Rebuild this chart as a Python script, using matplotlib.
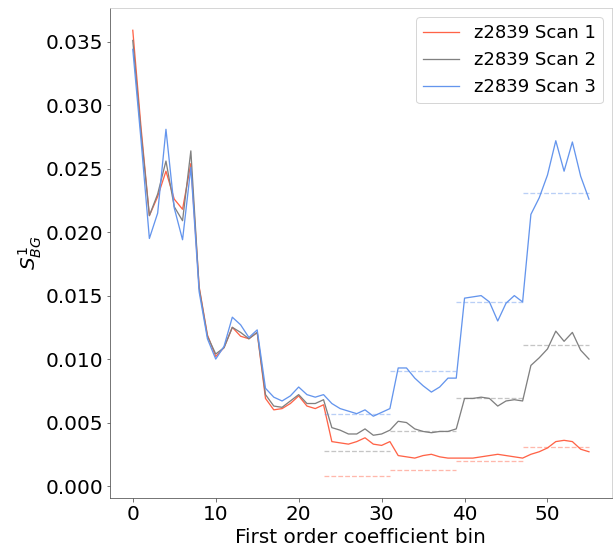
import matplotlib
matplotlib.use("Agg")
import matplotlib.pyplot as plt
import numpy as np

bins = np.arange(56)

scan1 = [0.0359, 0.0282, 0.0213, 0.0228, 0.0248, 0.0226, 0.0218, 0.0254, 0.0157, 0.0119,
         0.0102, 0.0109, 0.0125, 0.0118, 0.0116, 0.0121, 0.0069, 0.0060, 0.0061, 0.0065,
         0.0071, 0.0063, 0.0061, 0.0064, 0.0035, 0.0034, 0.0033, 0.0035, 0.0038, 0.0033,
         0.0032, 0.0035, 0.0024, 0.0023, 0.0022, 0.0024, 0.0025, 0.0023, 0.0022, 0.0022,
         0.0022, 0.0022, 0.0023, 0.0024, 0.0025, 0.0024, 0.0023, 0.0022, 0.0025, 0.0027,
         0.0030, 0.0035, 0.0036, 0.0035, 0.0029, 0.0027]
scan2 = [0.0351, 0.0278, 0.0213, 0.0230, 0.0256, 0.0220, 0.0209, 0.0264, 0.0156, 0.0118,
         0.0104, 0.0109, 0.0125, 0.0121, 0.0116, 0.0121, 0.0072, 0.0063, 0.0062, 0.0067,
         0.0072, 0.0065, 0.0065, 0.0068, 0.0046, 0.0044, 0.0041, 0.0041, 0.0045, 0.0040,
         0.0041, 0.0044, 0.0051, 0.0050, 0.0045, 0.0043, 0.0042, 0.0043, 0.0043, 0.0045,
         0.0069, 0.0069, 0.0070, 0.0069, 0.0063, 0.0067, 0.0068, 0.0067, 0.0095, 0.0101,
         0.0108, 0.0122, 0.0114, 0.0121, 0.0107, 0.0100]
scan3 = [0.0344, 0.0272, 0.0195, 0.0215, 0.0281, 0.0219, 0.0194, 0.0251, 0.0153, 0.0116,
         0.0100, 0.0110, 0.0133, 0.0127, 0.0117, 0.0123, 0.0077, 0.0070, 0.0067, 0.0071,
         0.0078, 0.0072, 0.0070, 0.0072, 0.0065, 0.0061, 0.0059, 0.0057, 0.0060, 0.0055,
         0.0058, 0.0061, 0.0093, 0.0093, 0.0085, 0.0079, 0.0074, 0.0078, 0.0085, 0.0085,
         0.0148, 0.0149, 0.0150, 0.0145, 0.0130, 0.0144, 0.0150, 0.0145, 0.0214, 0.0227,
         0.0245, 0.0272, 0.0248, 0.0271, 0.0244, 0.0226]

# averages drawn as dashed segments over bin ranges
seg_edges = [23, 31, 39, 47, 55]
avg1 = [0.00081, 0.00126, 0.00194, 0.00307]
avg2 = [0.00278, 0.00435, 0.00697, 0.01108]
avg3 = [0.00566, 0.00909, 0.01449, 0.02311]

labels = ["z2839 Scan 1", "z2839 Scan 2", "z2839 Scan 3"]
colors = ["tomato", "grey", "cornflowerblue"]

fig = plt.figure(figsize=(613 / 72, 548 / 72), dpi=72)
ax = fig.add_axes([0.1794, 0.0912, 0.8186, 0.8942])

for vals, avg, lab, col in zip([scan1, scan2, scan3], [avg1, avg2, avg3], labels, colors):
    ax.plot(bins, vals, color=col, label=lab, lw=1.3)
    for k, a in enumerate(avg):
        ax.plot([seg_edges[k], seg_edges[k + 1]], [a, a], color=col, ls="--", lw=1.3, alpha=0.45)

ax.set_xlabel("First order coefficient bin", fontsize=20)
ax.set_ylabel("$S^1_{BG}$", fontsize=20, labelpad=1)
ax.tick_params(labelsize=20, color="#555555")
ax.set_yticks([0, 0.005, 0.01, 0.015, 0.02, 0.025, 0.03, 0.035])
ax.set_yticklabels(["0.000", "0.005", "0.010", "0.015", "0.020", "0.025", "0.030", "0.035"])
for side in ["left", "bottom"]:
    ax.spines[side].set_color("#555555")
for side in ["top", "right"]:
    ax.spines[side].set_color("#cccccc")
ax.legend(fontsize=18, loc="upper right")

fig.savefig("out.png", dpi=72)
